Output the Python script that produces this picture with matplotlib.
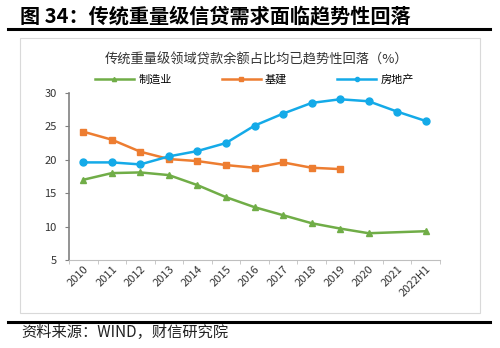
import matplotlib.pyplot as plt
import numpy as np
from matplotlib.patches import Rectangle
from matplotlib.lines import Line2D

plt.rcParams["font.family"] = ["Noto Sans CJK SC", "DejaVu Sans"]

years = ["2010", "2011", "2012", "2013", "2014", "2015", "2016",
         "2017", "2018", "2019", "2020", "2021", "2022H1"]
# manufacturing has no 2021 value; infrastructure stops at 2019
manufacturing = [17.0, 18.0, 18.1, 17.7, 16.2, 14.4, 12.9,
                 11.7, 10.5, 9.7, 9.0, np.nan, 9.3]
infrastructure = [24.2, 23.0, 21.2, 20.1, 19.8, 19.2, 18.8,
                  19.6, 18.8, 18.6]
real_estate = [19.6, 19.6, 19.3, 20.5, 21.3, 22.5, 25.1,
               26.9, 28.5, 29.05, 28.75, 27.2, 25.8]

fig = plt.figure(figsize=(5.0, 3.48), dpi=100)

# header, rules and source line
fig.text(0.04, 0.955, "图 34：传统重量级信贷需求面临趋势性回落", fontsize=14.5,
         fontweight="bold", va="center", ha="left")
fig.add_artist(Line2D([0.016, 0.98], [0.918, 0.918], color="black", lw=2.2))
fig.add_artist(Line2D([0.016, 0.98], [0.075, 0.075], color="black", lw=2.2))
fig.text(0.042, 0.044, "资料来源：WIND，财信研究院", fontsize=11, style="italic",
         va="center", ha="left", color="#222222")
fig.add_artist(Rectangle((0.04, 0.1), 0.92, 0.79, transform=fig.transFigure,
                         fill=False, edgecolor="#D9D9D9", lw=0.8))

fig.text(0.514, 0.828, "传统重量级领域贷款余额占比均已趋势性回落（%）",
         fontsize=9.5, ha="center", va="center", color="#333333")

ax = fig.add_axes([0.138, 0.253, 0.742, 0.48])
x = np.arange(len(years))

m = np.array(manufacturing)
ok = ~np.isnan(m)
ax.plot(x[ok], m[ok], color="#70AD47", lw=1.8, marker="^", ms=5,
        label="制造业")
ax.plot(x[:len(infrastructure)], infrastructure, color="#ED7D31", lw=1.8,
        marker="s", ms=5, label="基建")
ax.plot(x, real_estate, color="#14AAE8", lw=1.8, marker="o", ms=5,
        label="房地产")

ax.set_xlim(-0.5, len(years) - 0.5)
ax.set_ylim(5, 30)
ax.set_yticks([5, 10, 15, 20, 25, 30])
ax.set_xticks(x)
ax.set_xticklabels(years, rotation=45, ha="right", rotation_mode="anchor",
                   fontsize=8, color="#333333")
ax.set_xticks(np.arange(-0.5, len(years)), minor=True)
ax.tick_params(axis="x", which="major", length=0, pad=3)
ax.tick_params(axis="x", which="minor", length=3, color="#BFBFBF")
ax.tick_params(axis="y", length=3, color="#808080", labelsize=8,
               labelcolor="#333333", pad=6)

for s in ["top", "right"]:
    ax.spines[s].set_visible(False)
ax.spines["left"].set_color("#808080")
ax.spines["left"].set_linewidth(1.2)
ax.spines["bottom"].set_color("#BFBFBF")

ax.legend(loc="center", bbox_to_anchor=(0.5, 1.08), ncol=3, frameon=False,
          fontsize=8, markerscale=0.6, handlelength=3.5, columnspacing=4.5,
          handletextpad=0.4)

fig.savefig("out.png", dpi=100)
